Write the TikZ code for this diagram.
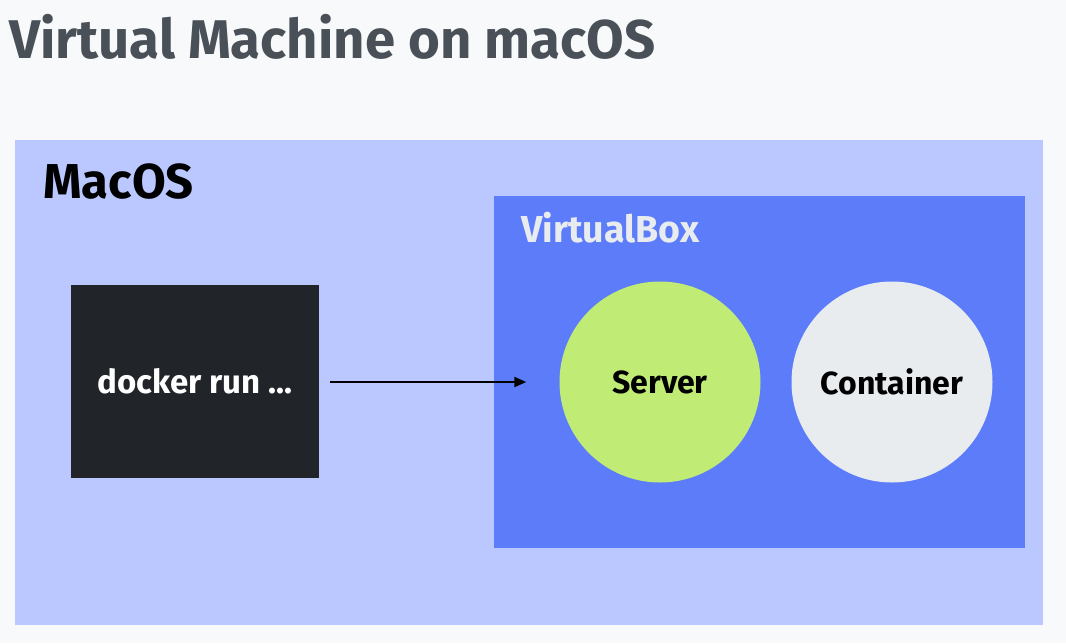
\documentclass[tikz,border=0pt]{standalone}
\usepackage{fontspec}
\setmainfont{Fira Sans}
\usetikzlibrary{arrows.meta}
\definecolor{bgc}{HTML}{F8F9FA}
\definecolor{macc}{HTML}{BAC8FF}
\definecolor{vboxc}{HTML}{5C7CFA}
\definecolor{dockc}{HTML}{212529}
\definecolor{servc}{HTML}{C0EB75}
\definecolor{contc}{HTML}{E9ECEF}
\definecolor{titlec}{HTML}{495057}
\tikzset{
  area/.style={draw=none, inner sep=0pt, outer sep=0pt},
  bubble/.style={circle, draw=none, minimum size=201pt, inner sep=0pt, font=\fontsize{32}{36}\selectfont\bfseries, text=black},
  lbl/.style={anchor=base west, inner sep=0pt, font=\fontsize{#1}{#1}\selectfont\bfseries},
  conn/.style={-{Triangle[length=12pt,width=10pt]}, line width=2pt, black}
}
\begin{document}
\begin{tikzpicture}[x=1pt,y=-1pt]
\useasboundingbox (0,0) rectangle (1066,643);
\fill[bgc] (0,0) rectangle (1066,643);
\node[lbl=54.5, text=titlec] (title) at (9,58) {Virtual Machine on macOS};
\node[area, fill=macc, minimum width=1028pt, minimum height=485pt, anchor=north west] (mac) at (15,140) {};
\node[lbl=49, text=black] (maclbl) at (43,198) {MacOS};
\node[area, fill=vboxc, minimum width=531pt, minimum height=352pt, anchor=north west] (vbox) at (494,196) {};
\node[lbl=37.5, text=contc] (vboxlbl) at (521,242) {VirtualBox};
\node[area, fill=dockc, minimum width=248pt, minimum height=193pt, anchor=north west, text=white, font=\fontsize{33}{36}\selectfont\bfseries] (dock) at (71,285) {docker run ...};
\node[bubble, fill=servc] (server) at (660,382) {Server};
\node[bubble, fill=contc] (cont) at (892,382) {Container};
\draw[conn, shorten <=11pt, shorten >=33pt] (dock.east |- server.center) -- (server.west);
\end{tikzpicture}
\end{document}
